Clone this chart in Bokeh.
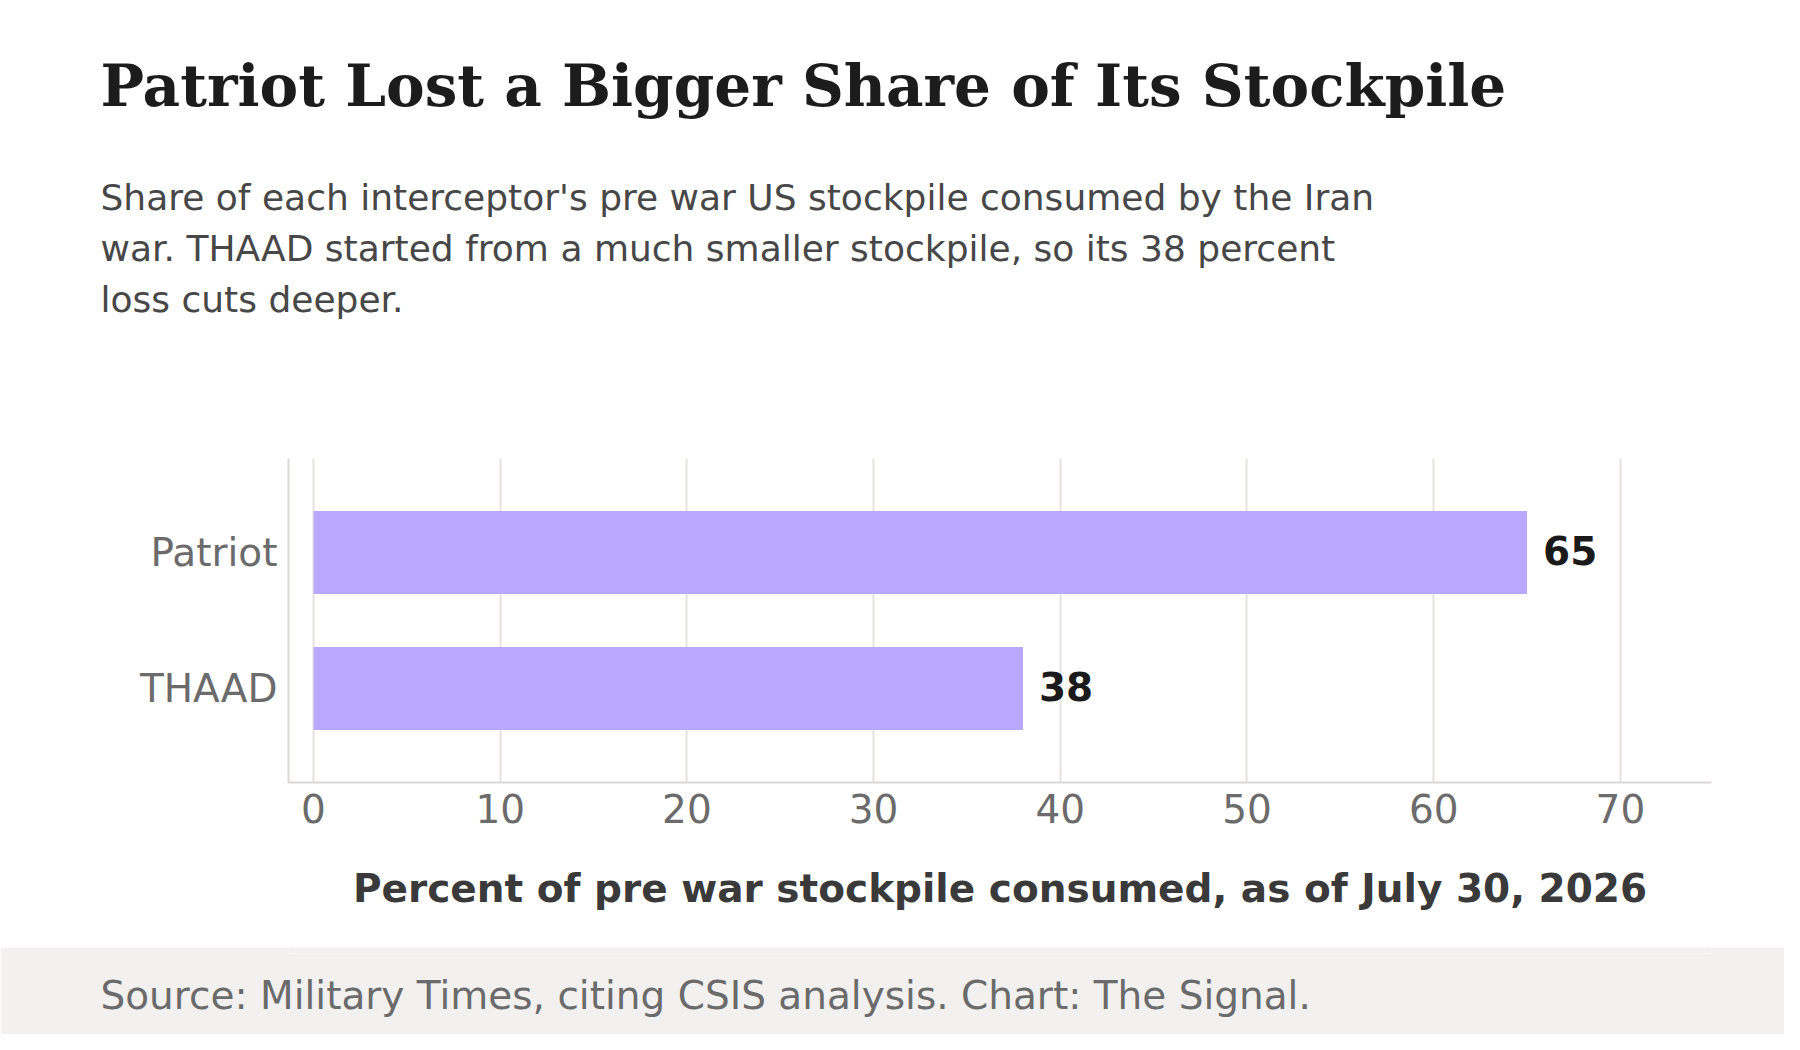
from bokeh.plotting import figure
from bokeh.models import Range1d, FactorRange, FixedTicker, Title, ColumnDataSource
from bokeh.layouts import column
from bokeh.embed import file_html
from bokeh.resources import INLINE
from bokeh.core.properties import value

# ---- data ----
TITLE = "Patriot Lost a Bigger Share of Its Stockpile"
SUBTITLE_LINES = [
    "Share of each interceptor's pre war US stockpile consumed by the Iran",
    "war. THAAD started from a much smaller stockpile, so its 38 percent",
    "loss cuts deeper.",
]
CATEGORIES = ["Patriot", "THAAD"]
VALUES = [65, 38]
X_TICKS = [0, 10, 20, 30, 40, 50, 60, 70]
X_LABEL = "Percent of pre war stockpile consumed, as of July 30, 2026"
SOURCE = "Source: Military Times, citing CSIS analysis. Chart: The Signal."

# ---- layout constants ----
W = 1784
LEFT = 288
RIGHT = 1711
TEXT_X = 100
HEADER_H = 438
MAIN_H = 509
FOOTER_H = 87
SANS = "DejaVu Sans"
SERIF = "DejaVu Serif"
BORDERS = dict(min_border_left=LEFT, min_border_right=W - RIGHT)

# ---- header (titles live in the side panel, so they are not clipped) ----
header = figure(width=W, height=HEADER_H, x_range=Range1d(0, 1), y_range=Range1d(0, 1),
                output_backend="svg", toolbar_location=None, x_axis_type=None, y_axis_type=None,
                min_border_top=0, min_border_bottom=0, outline_line_color=None, **BORDERS)
sub_standoffs = [13, 2.5, 13]
for line, so in reversed(list(zip(SUBTITLE_LINES, sub_standoffs))):
    header.add_layout(Title(text=line, align="left", offset=TEXT_X - LEFT, standoff=so,
                            text_font=SANS, text_font_size="36px", text_font_style="normal",
                            text_color="#474747"), "above")
header.add_layout(Title(text=TITLE, align="left", offset=TEXT_X - LEFT, standoff=98,
                        text_font=SERIF, text_font_size="58px", text_font_style="bold",
                        text_color="#1c1c1c"), "above")

# ---- main chart ----
p = figure(width=W, height=MAIN_H,
           x_range=Range1d(-1.34, 74.88),
           y_range=FactorRange(factors=CATEGORIES[::-1], range_padding=0.19, range_padding_units="absolute"),
           output_backend="svg", toolbar_location=None,
           min_border_top=20, min_border_bottom=165, **BORDERS)
p.outline_line_color = None

src = ColumnDataSource(dict(cat=CATEGORIES, val=VALUES, lab=[str(v) for v in VALUES]))
p.hbar(y="cat", left=0, right="val", height=0.61, source=src, fill_color="#b8a9fe", line_color=None)
p.text(x="val", y="cat", text="lab", source=src, x_offset=16, y_offset=-2,
       text_baseline="middle", text_align="left", text_font=value(SANS), text_font_style="bold",
       text_font_size="39px", text_color="#1a1a1a")

p.xaxis.ticker = FixedTicker(ticks=X_TICKS)
p.xaxis.axis_label = X_LABEL
p.xaxis.axis_label_text_font = SANS
p.xaxis.axis_label_text_font_size = "39px"
p.xaxis.axis_label_text_font_style = "bold"
p.xaxis.axis_label_text_color = "#3a3a3a"
p.xaxis.axis_label_standoff = 40
p.xaxis.major_label_standoff = 11

for ax in (p.xaxis, p.yaxis):
    ax.major_label_text_font = SANS
    ax.major_label_text_font_size = "39px"
    ax.major_label_text_color = "#6b6b6b"
    ax.major_tick_out = 0
    ax.major_tick_in = 0
    ax.minor_tick_out = 0
    ax.minor_tick_in = 0
    ax.axis_line_color = "#d9d8d3"
    ax.axis_line_width = 2
p.yaxis.major_label_standoff = 11

p.xgrid.grid_line_color = "#e4e3df"
p.xgrid.grid_line_width = 2
p.ygrid.visible = False

# ---- footer ----
footer = figure(width=W, height=FOOTER_H, x_range=Range1d(0, 1), y_range=Range1d(0, 1),
                output_backend="svg", toolbar_location=None, x_axis_type=None, y_axis_type=None,
                min_border_top=0, min_border_bottom=0, outline_line_color=None,
                background_fill_color="#f2f1f0", border_fill_color="#f2f1f0", **BORDERS)
footer.add_layout(Title(text=SOURCE, align="left", offset=TEXT_X - LEFT, standoff=33.6,
                        vertical_align="bottom", text_font=SANS, text_font_size="39px",
                        text_font_style="normal", text_color="#6b6b6b"), "below")

layout = column(header, p, footer, spacing=0)
open("out.html", "w").write(file_html(layout, INLINE))
